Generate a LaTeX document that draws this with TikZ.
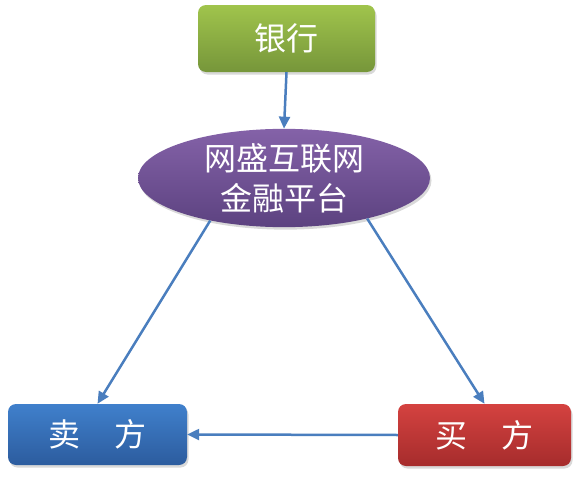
\documentclass[tikz,border=0pt]{standalone}
\usepackage{fontspec}
\newfontfamily\cjk{Noto Sans CJK SC}
\usetikzlibrary{shapes.geometric, arrows.meta, shadows}
\definecolor{bankTop}{RGB}{160,196,76}
\definecolor{bankBot}{RGB}{118,150,58}
\definecolor{platTop}{RGB}{132,98,168}
\definecolor{platBot}{RGB}{92,66,128}
\definecolor{sellTop}{RGB}{64,128,204}
\definecolor{sellBot}{RGB}{44,92,158}
\definecolor{buyTop}{RGB}{212,66,64}
\definecolor{buyBot}{RGB}{166,44,44}
\definecolor{linkBlue}{RGB}{74,126,190}

\tikzset{
  box/.style={rounded corners=8pt, inner sep=0pt, text=white,
    font=\cjk\fontsize{32}{40}\selectfont,
    drop shadow={shadow xshift=1.5pt, shadow yshift=-2.5pt, opacity=0.3}},
  oval/.style={ellipse, inner sep=0pt, text=white, align=center,
    font=\cjk\fontsize{32}{40}\selectfont,
    drop shadow={shadow xshift=1.5pt, shadow yshift=-2.5pt, opacity=0.3}},
  link/.style={draw=linkBlue, line width=2.5pt, -{Triangle[length=12pt, width=11pt]}}
}

\begin{document}
\begin{tikzpicture}[x=1pt, y=-1pt]
  \useasboundingbox (0,0) rectangle (579,479);
  % nodes
  \node[box, top color=bankTop, bottom color=bankBot,
    minimum width=177pt, minimum height=67pt] (bank) at (286.5,38.5) {银行};
  \node[oval, top color=platTop, bottom color=platBot,
    minimum width=292pt, minimum height=90pt] (plat) at (284,178)
    {网盛互联网\\金融平台};
  \node[box, top color=sellTop, bottom color=sellBot,
    minimum width=179pt, minimum height=61pt] (seller) at (97.5,434.5)
    {卖\hspace{35pt}方};
  \node[box, top color=buyTop, bottom color=buyBot,
    minimum width=173pt, minimum height=62pt] (buyer) at (484.5,435)
    {买\hspace{35pt}方};
  % links
  \draw[link] (bank.south) -- (plat.north);
  \draw[link] (plat.210) -- (seller.north);
  \draw[link] (plat.334) -- (buyer.north);
  \draw[link] (buyer.west) -- (seller.east);
\end{tikzpicture}
\end{document}
